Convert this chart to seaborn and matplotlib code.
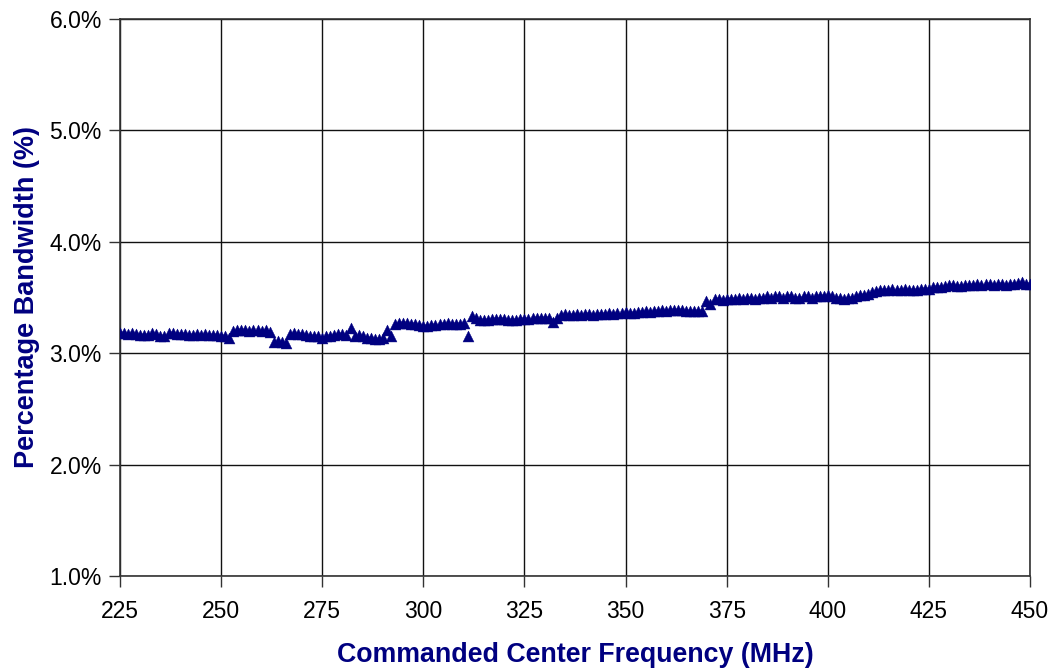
import matplotlib
matplotlib.use("Agg")
import matplotlib.pyplot as plt
import seaborn as sns
import pandas as pd
from matplotlib.ticker import FuncFormatter

# Commanded center frequency (MHz), one sample per MHz
freq_mhz = list(range(225, 451))

# Percentage bandwidth (%)
pct_bandwidth = [
    3.18, 3.18, 3.17, 3.18, 3.17, 3.16, 3.16, 3.16, 3.18, 3.17,  # 225-234
    3.15, 3.15, 3.18, 3.18, 3.17, 3.17, 3.17, 3.16, 3.16, 3.17,  # 235-244
    3.16, 3.17, 3.16, 3.16, 3.16, 3.15, 3.15, 3.14, 3.20, 3.21,  # 245-254
    3.21, 3.21, 3.20, 3.21, 3.21, 3.20, 3.21, 3.19, 3.10, 3.11,  # 255-264
    3.10, 3.09, 3.17, 3.18, 3.17, 3.17, 3.16, 3.15, 3.15, 3.15,  # 265-274
    3.14, 3.15, 3.15, 3.16, 3.17, 3.17, 3.16, 3.23, 3.15, 3.16,  # 275-284
    3.15, 3.14, 3.14, 3.13, 3.13, 3.14, 3.21, 3.15, 3.26, 3.27,  # 285-294
    3.27, 3.27, 3.26, 3.26, 3.25, 3.24, 3.24, 3.25, 3.25, 3.26,  # 295-304
    3.26, 3.27, 3.26, 3.26, 3.26, 3.27, 3.15, 3.33, 3.32, 3.30,  # 305-314
    3.30, 3.30, 3.31, 3.31, 3.31, 3.31, 3.30, 3.30, 3.30, 3.31,  # 315-324
    3.31, 3.31, 3.32, 3.32, 3.32, 3.32, 3.32, 3.28, 3.32, 3.34,  # 325-334
    3.35, 3.34, 3.34, 3.35, 3.34, 3.35, 3.35, 3.34, 3.35, 3.35,  # 335-344
    3.35, 3.36, 3.35, 3.36, 3.36, 3.37, 3.36, 3.36, 3.37, 3.37,  # 345-354
    3.38, 3.37, 3.38, 3.38, 3.39, 3.38, 3.39, 3.39, 3.39, 3.39,  # 355-364
    3.38, 3.38, 3.38, 3.38, 3.38, 3.47, 3.44, 3.49, 3.49, 3.48,  # 365-374
    3.49, 3.49, 3.49, 3.50, 3.49, 3.50, 3.50, 3.49, 3.50, 3.50,  # 375-384
    3.51, 3.50, 3.51, 3.51, 3.50, 3.51, 3.51, 3.50, 3.50, 3.51,  # 385-394
    3.51, 3.50, 3.51, 3.51, 3.51, 3.52, 3.51, 3.50, 3.50, 3.49,  # 395-404
    3.50, 3.50, 3.51, 3.52, 3.52, 3.53, 3.55, 3.56, 3.57, 3.57,  # 405-414
    3.57, 3.58, 3.57, 3.57, 3.58, 3.57, 3.57, 3.57, 3.58, 3.58,  # 415-424
    3.58, 3.59, 3.59, 3.59, 3.60, 3.61, 3.61, 3.60, 3.60, 3.61,  # 425-434
    3.61, 3.61, 3.62, 3.61, 3.62, 3.62, 3.61, 3.62, 3.62, 3.61,  # 435-444
    3.62, 3.62, 3.63, 3.64, 3.62, 3.62,                          # 445-450
]

x_ticks = [225, 250, 275, 300, 325, 350, 375, 400, 425, 450]
y_ticks = [1.0, 2.0, 3.0, 4.0, 5.0, 6.0]

x_label = "Commanded Center Frequency (MHz)"
y_label = "Percentage Bandwidth (%)"

df = pd.DataFrame({"freq": freq_mhz, "pct": pct_bandwidth})

sns.set_style("white")
plt.rcParams["font.family"] = ["Liberation Sans", "DejaVu Sans"]

fig = plt.figure(figsize=(10.54, 6.69), dpi=100)
ax = fig.add_axes([120 / 1054, 1 - 576 / 669, (1030 - 120) / 1054, (576 - 19) / 669])

navy = "#000080"
sns.scatterplot(data=df, x="freq", y="pct", marker="^", s=62, color=navy,
                edgecolor=navy, linewidth=0.3, ax=ax, zorder=3)

ax.set_xlim(225, 450)
ax.set_ylim(1.0, 6.0)
ax.set_xticks(x_ticks)
ax.set_yticks(y_ticks)
ax.yaxis.set_major_formatter(FuncFormatter(lambda v, p: f"{v:.1f}%"))

ax.grid(True, color="#111111", linewidth=1.0)
ax.set_axisbelow(True)
for side in ["left", "right", "top", "bottom"]:
    ax.spines[side].set_visible(True)
    ax.spines[side].set_color("#333333")
    ax.spines[side].set_linewidth(1.2)

ax.tick_params(axis="both", which="major", direction="out", length=8, width=1.0,
               color="#333333", labelsize=16.5, labelcolor="black", pad=5,
               bottom=True, left=True)
ax.tick_params(axis="x", pad=9)

ax.set_xlabel(x_label, fontsize=19.3, fontweight="bold", color=navy, labelpad=14)
ax.set_ylabel(y_label, fontsize=19.5, fontweight="bold", color=navy, labelpad=7)

fig.savefig("out.png", dpi=100)
